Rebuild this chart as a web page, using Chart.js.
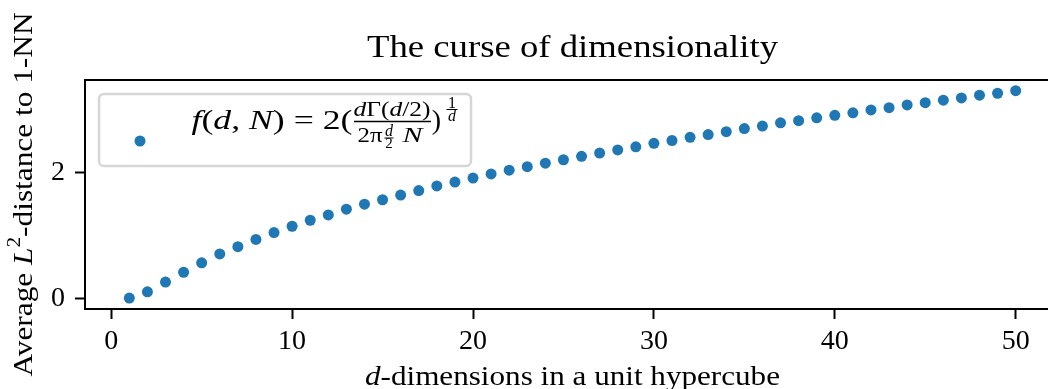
<!DOCTYPE html>
<html>
<head>
<meta charset="utf-8">
<title>The curse of dimensionality</title>
<script src="https://cdn.jsdelivr.net/npm/chart.js@4.4.1/dist/chart.umd.min.js"></script>
<style>
  html, body { margin: 0; padding: 0; background: #fff; overflow: hidden; }
  #chart { display: block; }
</style>
</head>
<body>
<canvas id="chart" width="1070" height="389"></canvas>
<script>
// 🔢 DATA - dimension d and average L2 distance to the nearest neighbour
const dims = [1, 2, 3, 4, 5, 6, 7, 8, 9, 10,
    11, 12, 13, 14, 15, 16, 17, 18, 19, 20,
    21, 22, 23, 24, 25, 26, 27, 28, 29, 30,
    31, 32, 33, 34, 35, 36, 37, 38, 39, 40,
    41, 42, 43, 44, 45, 46, 47, 48, 49, 50];
const avgDistance = [0.01, 0.11, 0.265, 0.42, 0.57, 0.71, 0.825, 0.94, 1.05, 1.15,
    1.245, 1.33, 1.42, 1.50, 1.57, 1.645, 1.715, 1.79, 1.85, 1.915,
    1.98, 2.04, 2.095, 2.15, 2.205, 2.26, 2.31, 2.36, 2.41, 2.465,
    2.51, 2.56, 2.605, 2.65, 2.70, 2.74, 2.79, 2.825, 2.87, 2.91,
    2.95, 2.995, 3.03, 3.075, 3.11, 3.15, 3.185, 3.23, 3.26, 3.30];
const xTicks = [0, 10, 20, 30, 40, 50];
const yTicks = [0, 2];
const xLimits = [-1.45, 52.45];
const yLimits = [-0.163, 3.47];

const SERIF = '"Liberation Serif", "DejaVu Serif", serif';
const BLUE = "#1f77b4";

const fontOf = (size, italic) => `${italic ? "italic " : ""}${size}px ${SERIF}`;

// 🖋️ TEXT - a row of runs centred on (cx, cy), stretched to the given width
const drawRuns = (ctx, runs, cx, cy, width, angle = 0) => {
    ctx.save();
    let total = 0;
    const widths = runs.map(r => {
        ctx.font = fontOf(r.size, r.italic);
        const w = ctx.measureText(r.text).width;
        total += w;
        return w;
    });
    ctx.translate(cx, cy);
    ctx.rotate(angle);
    ctx.scale(width ? width / total : 1, 1);
    ctx.textAlign = "left";
    ctx.textBaseline = "alphabetic";
    ctx.fillStyle = "#000";
    let x = -total / 2;
    runs.forEach((r, i) => {
        ctx.font = fontOf(r.size, r.italic);
        ctx.fillText(r.text, x, -(r.rise || 0));
        x += widths[i];
    });
    ctx.restore();
};

const hline = (ctx, x0, x1, y, w) => {
    ctx.beginPath();
    ctx.lineWidth = w;
    ctx.strokeStyle = "#000";
    ctx.moveTo(x0, y);
    ctx.lineTo(x1, y);
    ctx.stroke();
};

// 📦 LEGEND - marker plus the formula f(d,N)
const drawLegend = (ctx, left, top) => {
    const bw = 372, bh = 72, r = 5;
    ctx.save();
    ctx.beginPath();
    ctx.roundRect(left, top, bw, bh, r);
    ctx.fillStyle = "rgba(255,255,255,0.8)";
    ctx.fill();
    ctx.lineWidth = 2.5;
    ctx.strokeStyle = "#d6d6d6";
    ctx.stroke();

    ctx.beginPath();
    ctx.arc(left + 41, top + 47, 5.5, 0, Math.PI * 2);
    ctx.fillStyle = BLUE;
    ctx.fill();
    ctx.restore();

    const ox = left, oy = top;
    // f(d, N) = 2(
    drawRuns(ctx, [
        { text: "f", size: 28, italic: true },
        { text: "(", size: 28 },
        { text: "d", size: 28, italic: true },
        { text: ", ", size: 28 },
        { text: "N", size: 28, italic: true },
        { text: ") = 2(", size: 28 }
    ], ox + 173, oy + 35, 161);
    // numerator
    drawRuns(ctx, [
        { text: "d", size: 22, italic: true },
        { text: "Γ(", size: 22 },
        { text: "d", size: 22, italic: true },
        { text: "/2)", size: 22 }
    ], ox + 293, oy + 22, 77);
    hline(ctx, ox + 255, ox + 332, oy + 27.5, 1.4);
    // denominator 2π^{d/2} N
    drawRuns(ctx, [{ text: "2π", size: 22 }], ox + 271, oy + 47.5, 25);
    drawRuns(ctx, [{ text: "d", size: 16, italic: true }], ox + 290, oy + 42, 0);
    hline(ctx, ox + 285.5, ox + 294.5, oy + 44, 1);
    drawRuns(ctx, [{ text: "2", size: 15 }], ox + 290, oy + 54, 0);
    drawRuns(ctx, [{ text: "N", size: 22, italic: true }], ox + 313.5, oy + 47.5, 20);
    // closing bracket and exponent 1/d
    drawRuns(ctx, [{ text: ")", size: 28 }], ox + 337.5, oy + 35, 0);
    drawRuns(ctx, [{ text: "1", size: 16 }], ox + 353, oy + 13.5, 0);
    hline(ctx, ox + 347.5, ox + 358.5, oy + 15.5, 1);
    drawRuns(ctx, [{ text: "d", size: 16, italic: true }], ox + 353, oy + 27, 0);
};

// 🖼️ FRAME - spines, title, axis labels and legend
const framePlugin = {
    id: "frame",
    afterDraw: (chart) => {
        const ctx = chart.ctx;
        const a = chart.chartArea;
        const cx = (a.left + a.right) / 2;

        ctx.save();
        ctx.lineWidth = 2;
        ctx.strokeStyle = "#000";
        ctx.beginPath();
        ctx.moveTo(a.left, a.top);
        ctx.lineTo(a.right, a.top);
        ctx.lineTo(a.right, a.bottom);
        ctx.stroke();
        ctx.restore();

        drawRuns(ctx, [{ text: "The curse of dimensionality", size: 32 }], cx, a.top - 23, 411);

        drawRuns(ctx, [
            { text: "d", size: 28, italic: true },
            { text: "-dimensions in a unit hypercube", size: 28 }
        ], cx, a.bottom + 76, 415);

        drawRuns(ctx, [
            { text: "Average ", size: 28 },
            { text: "L", size: 28, italic: true },
            { text: "2", size: 19, rise: 12 },
            { text: "-distance to 1-NN", size: 28 }
        ], 32, (a.top + a.bottom) / 2, 364, -Math.PI / 2);

        drawLegend(ctx, a.left + 14, a.top + 14);
    }
};

const axisStyle = {
    grid: {
        drawOnChartArea: false,
        drawTicks: true,
        tickLength: 10,
        tickWidth: 2,
        tickColor: "#000"
    },
    border: { display: true, color: "#000", width: 2 },
    ticks: {
        color: "#000",
        font: { family: SERIF, size: 28 }
    }
};

// 📊 CHART
new Chart(document.getElementById("chart"), {
    type: "scatter",
    data: {
        datasets: [{
            label: "f(d, N)",
            data: dims.map((d, i) => ({ x: d, y: avgDistance[i] })),
            backgroundColor: BLUE,
            borderWidth: 0,
            pointRadius: 5.5,
            pointHoverRadius: 5.5
        }]
    },
    options: {
        responsive: false,
        animation: false,
        layout: { padding: { top: 80, right: 10, left: 0, bottom: 0 } },
        plugins: {
            legend: { display: false },
            tooltip: { enabled: false }
        },
        scales: {
            x: {
                ...axisStyle,
                type: "linear",
                min: xLimits[0],
                max: xLimits[1],
                ticks: { ...axisStyle.ticks, padding: 6, maxRotation: 0 },
                afterBuildTicks: (scale) => { scale.ticks = xTicks.map(v => ({ value: v })); },
                afterFit: (scale) => { scale.height = 80; }
            },
            y: {
                ...axisStyle,
                min: yLimits[0],
                max: yLimits[1],
                ticks: { ...axisStyle.ticks, padding: 10 },
                afterBuildTicks: (scale) => { scale.ticks = yTicks.map(v => ({ value: v })); },
                afterFit: (scale) => { scale.width = 85; }
            }
        }
    },
    plugins: [framePlugin]
});
</script>
</body>
</html>
